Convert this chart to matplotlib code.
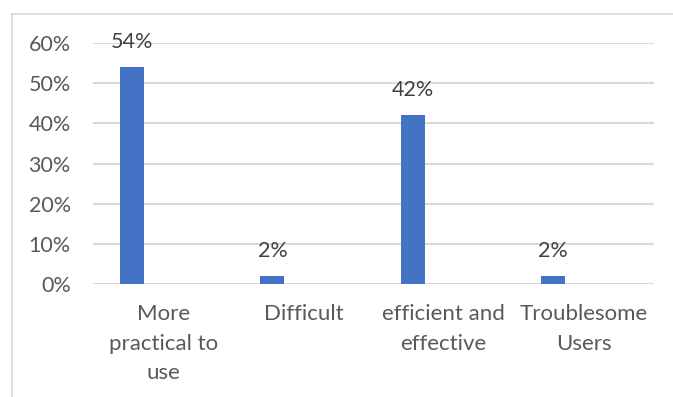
import matplotlib
matplotlib.use("Agg")
import matplotlib.pyplot as plt
from matplotlib.lines import Line2D
import numpy as np

categories = ["More\npractical to\nuse", "Difficult", "efficient and\neffective", "Troublesome\nUsers"]
values = [0.54, 0.02, 0.42, 0.02]
yticks = [0.0, 0.1, 0.2, 0.3, 0.4, 0.5, 0.6]

plt.rcParams["font.family"] = ["Lato", "DejaVu Sans"]

fig = plt.figure(figsize=(6.73, 3.97), dpi=100)
fig.patch.set_facecolor("white")
ax = fig.add_axes([93 / 673, 1 - 284 / 397, (654 - 93) / 673, (284 - 43) / 397])

x = np.arange(len(categories))
bw = 0.171
bars = ax.bar(x - 0.221, values, width=bw, color="#4472C4", zorder=3)
for b, v in zip(bars, values):
    ax.annotate(f"{v:.0%}", (b.get_x() + b.get_width() / 2, v),
                textcoords="offset points", xytext=(0, 11), ha="center", va="bottom",
                fontsize=15.5, color="#404040", zorder=4)

ax.set_xlim(-0.5, len(categories) - 0.5)
ax.set_ylim(0, 0.6)
ax.set_yticks(yticks)
ax.set_yticklabels([f"{t:.0%}" for t in yticks])
ax.set_xticks(x)
ax.set_xticklabels(categories, linespacing=1.6)
ax.yaxis.grid(True, color="#D9D9D9", linewidth=1.5, zorder=0)
ax.tick_params(axis="y", length=0, pad=16, labelsize=15.5, labelcolor="#595959")
ax.tick_params(axis="x", length=0, pad=14.5, labelsize=16, labelcolor="#595959")
for s in ax.spines.values():
    s.set_visible(False)

# outer chart frame (only top and left edges visible)
fig.add_artist(Line2D([12 / 673, 1], [1 - 14 / 397, 1 - 14 / 397], color="#D9D9D9", linewidth=1.2))
fig.add_artist(Line2D([12 / 673, 12 / 673], [0, 1 - 14 / 397], color="#D9D9D9", linewidth=1.2))

fig.savefig("out.png", dpi=100, facecolor="white")
